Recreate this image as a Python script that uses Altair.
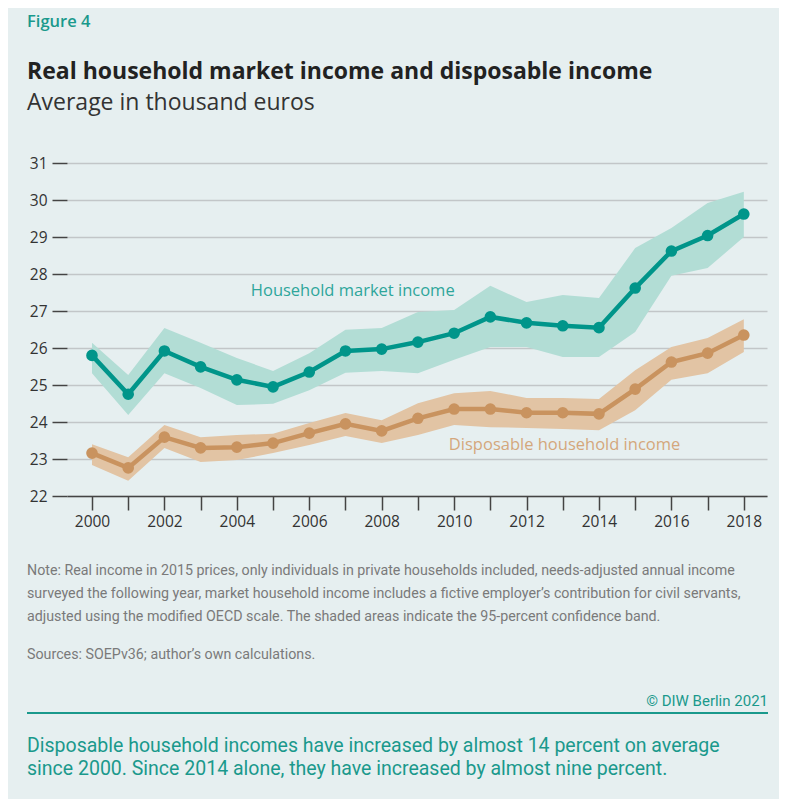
import altair as alt
import pandas as pd

years = list(range(2000, 2019))
market = [25.8, 24.75, 25.92, 25.49, 25.14, 24.95, 25.35, 25.92, 25.97, 26.16,
          26.4, 26.84, 26.68, 26.6, 26.55, 27.62, 28.62, 29.04, 29.62]
market_lo = [25.32, 24.19, 25.32, 24.92, 24.46, 24.49, 24.86, 25.33, 25.38, 25.32,
             25.68, 26.03, 26.03, 25.76, 25.76, 26.43, 27.95, 28.16, 29.0]
market_hi = [26.14, 25.27, 26.54, 26.14, 25.73, 25.38, 25.86, 26.49, 26.54, 26.97,
             27.03, 27.68, 27.24, 27.43, 27.35, 28.7, 29.24, 29.92, 30.22]
disp = [23.16, 22.76, 23.59, 23.3, 23.32, 23.43, 23.7, 23.95, 23.76, 24.1,
        24.35, 24.35, 24.25, 24.25, 24.22, 24.89, 25.62, 25.86, 26.35]
disp_lo = [22.84, 22.41, 23.3, 22.92, 22.97, 23.16, 23.38, 23.62, 23.43, 23.65,
           23.92, 23.86, 23.84, 23.81, 23.78, 24.32, 25.14, 25.32, 25.89]
disp_hi = [23.4, 23.05, 23.92, 23.59, 23.65, 23.68, 23.97, 24.24, 24.05, 24.51,
           24.78, 24.84, 24.65, 24.65, 24.62, 25.4, 26.03, 26.27, 26.78]

series_names = ["Household market income", "Disposable household income"]
label_years = [2007.2, 2013.05]
label_values = [27.55, 23.38]

y_ticks = list(range(22, 32))

note_lines = [
    "Note: Real income in 2015 prices, only individuals in private households included, needs-adjusted annual income",
    "surveyed the following year, market household income includes a fictive employer\u2019s contribution for civil servants,",
    "adjusted using the modified OECD scale. The shaded areas indicate the 95-percent confidence band.",
]
source_line = "Sources: SOEPv36; author\u2019s own calculations."
copyright_line = "\u00a9 DIW Berlin 2021"
summary_lines = [
    "Disposable household incomes have increased by almost 14 percent on average",
    "since 2000. Since 2014 alone, they have increased by almost nine percent.",
]

TEAL = "#00958a"
TEAL_BAND = "#b2ddd5"
BROWN = "#c9935f"
BROWN_BAND = "#e2c4a4"
BG = "#e6eff0"
TEXT_TEAL = "#1a998c"

df = pd.concat([
    pd.DataFrame({"year": years, "value": market, "lo": market_lo, "hi": market_hi,
                  "series": series_names[0]}),
    pd.DataFrame({"year": years, "value": disp, "lo": disp_lo, "hi": disp_hi,
                  "series": series_names[1]}),
])
labels_df = pd.DataFrame({"year": label_years, "value": label_values, "series": series_names})

x_scale = alt.Scale(domain=[1999.31, 2018.64], nice=False, zero=False)
y_scale = alt.Scale(domain=[22, 31], nice=False, zero=False)
color_scale = alt.Scale(domain=series_names, range=[TEAL, BROWN])
band_scale = alt.Scale(domain=series_names, range=[TEAL_BAND, BROWN_BAND])
label_scale = alt.Scale(domain=series_names, range=["#2ea69b", "#d4a77c"])

x_axis = alt.Axis(values=years, format="d", title=None, grid=False,
                  labelExpr="datum.value % 2 == 0 ? datum.label : ''",
                  labelOverlap=False,
                  tickSize=14, tickColor="#444", tickWidth=1.5,
                  domainColor="#444", domainWidth=1.5,
                  labelFont="Open Sans", labelFontSize=15.5, labelColor="#333",
                  labelPadding=4)
y_axis = alt.Axis(values=y_ticks, title=None, grid=True, gridColor="#c2c6c8",
                  gridWidth=1.5, domain=False, tickSize=15, tickColor="#444",
                  labelOverlap=False,
                  tickWidth=1.5, labelFont="Open Sans", labelFontSize=15.5,
                  labelColor="#333", labelPadding=5)

X = alt.X("year:Q", scale=x_scale, axis=x_axis)
Y_VAL = alt.Y("value:Q", scale=y_scale, axis=y_axis)

base = alt.Chart(df)

bands = base.mark_area(opacity=1).encode(
    x=X,
    y=alt.Y("lo:Q", scale=y_scale, axis=y_axis),
    y2="hi:Q",
    color=alt.Color("series:N", scale=band_scale, legend=None),
)
lines = base.mark_line(strokeWidth=4.5).encode(
    x=X, y=Y_VAL,
    color=alt.Color("series:N", scale=color_scale, legend=None),
)
points = base.mark_circle(size=135, opacity=1).encode(
    x=X, y=Y_VAL,
    color=alt.Color("series:N", scale=color_scale, legend=None),
)
series_labels = alt.Chart(labels_df).mark_text(
    font="Open Sans", fontSize=16.5, align="center", baseline="middle"
).encode(
    x=X, y=Y_VAL,
    text="series:N",
    color=alt.Color("series:N", scale=label_scale, legend=None),
)

one = alt.Data(values=[{}])


def txt(text, x, y, size, color, weight="normal", font="Open Sans", align="left"):
    return alt.Chart(one).mark_text(
        text=text, x=x, y=y, fontSize=size, color=color, fontWeight=weight,
        font=font, align=align, baseline="alphabetic"
    ).encode(opacity=alt.value(1))


NARROW = "Roboto"

texts = [
    txt("Figure 4", -40, -136, 16.5, TEXT_TEAL, weight=600),
    txt("Real household market income and disposable income", -40, -84, 23, "#222", weight="bold"),
    txt("Average in thousand euros", -40, -53, 23, "#333"),
]
for i, line in enumerate(note_lines):
    texts.append(txt(line, -40, 412 + 23 * i, 14.25, "#7a7a7a", font=NARROW))
texts.append(txt(source_line, -40, 496, 14.25, "#7a7a7a", font=NARROW))
texts.append(txt(copyright_line, 701, 543, 15, TEXT_TEAL, font=NARROW, align="right"))
for i, line in enumerate(summary_lines):
    texts.append(txt(line, -40, 589 + 23 * i, 19.5, TEXT_TEAL, font=NARROW))

rule = alt.Chart(one).mark_rule(color=TEXT_TEAL, strokeWidth=2).encode(
    x=alt.value(-40), x2=alt.value(701), y=alt.value(550)
)

chart = alt.layer(bands, lines, points, series_labels, rule, *texts).resolve_scale(
    color="independent"
).properties(
    width=700, height=333,
    autosize=alt.AutoSizeParams(type="none"),
    padding={"left": 59, "top": 155, "right": 12, "bottom": 303},
    background=BG,
).configure_view(stroke=None)

chart.save("out.html", embed_options={"renderer": "svg", "actions": False})
